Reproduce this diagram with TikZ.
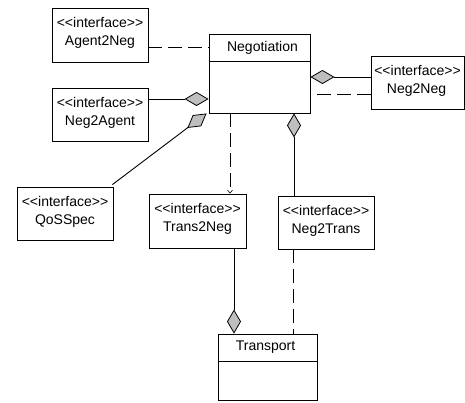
\documentclass[tikz,border=0pt]{standalone}
\usepackage{fontspec}
% plain family: no TeX ligatures, so << and >> stay as typed
\newfontfamily\umlfont{Liberation Sans}
\usetikzlibrary{arrows.meta}
\begin{document}
\begin{tikzpicture}[x=1pt,y=-1pt,
  line width=0.9pt,
  every node/.style={font=\umlfont\fontsize{14}{16}\selectfont, inner sep=0pt},
  classbox/.style={draw, fill=white, minimum width=#1},
  umldash/.style={dash pattern=on 14pt off 6pt},
  agg/.style={-{Diamond[length=24pt,width=14pt,fill=lightgray,line width=0.8pt]}},
  dep/.style={umldash, -{Straight Barb[length=3pt,width=5pt,line width=0.6pt]}}
]
\useasboundingbox (0,0) rectangle (465,403);

% interface boxes
\node[classbox=96, minimum height=54] (agent) at (100,35) {};
\node[classbox=96, minimum height=53] (negagent) at (100,114.5) {};
\node[classbox=93, minimum height=53] (negneg) at (417.5,82.5) {};
\node[classbox=96, minimum height=53] (qos) at (65,213.5) {};
\node[classbox=97, minimum height=54] (transneg) at (197.5,221) {};
\node[classbox=96, minimum height=53] (negtrans) at (326,222.5) {};

% class boxes with a compartment line
\node[classbox=101, minimum height=79] (nego) at (259.5,73.5) {};
\draw ([yshift=-28pt]nego.north west) -- ([yshift=-28pt]nego.north east);
\node[classbox=99, minimum height=66] (transport) at (267.5,367) {};
\draw ([yshift=-28pt]transport.north west) -- ([yshift=-28pt]transport.north east);

% texts
\node at ([yshift=-15pt]agent.north) {<<interface>>};
\node at ([yshift=-35pt]agent.north) {Agent2Neg};
\node at ([yshift=-15pt]negagent.north) {<<interface>>};
\node at ([yshift=-35pt]negagent.north) {Neg2Agent};
\node at ([yshift=-15pt]negneg.north) {<<interface>>};
\node at ([yshift=-35pt,xshift=-1pt]negneg.north) {Neg2Neg};
\node at ([yshift=-15pt]qos.north) {<<interface>>};
\node at ([yshift=-35pt]qos.north) {QoSSpec};
\node at ([yshift=-15pt]transneg.north) {<<interface>>};
\node at ([yshift=-35pt]transneg.north) {Trans2Neg};
\node at ([yshift=-15pt]negtrans.north) {<<interface>>};
\node at ([yshift=-35pt]negtrans.north) {Neg2Trans};
\node at ([yshift=-14pt,xshift=3pt]nego.north) {Negotiation};
\node at ([yshift=-14pt,xshift=-2pt]transport.north) {Transport};

% connectors
\draw[umldash] ([yshift=-12pt]agent.east) -- ([yshift=-12pt]agent.east -| nego.west);
\draw[agg] ([yshift=15.5pt]negagent.east) -- ([yshift=15.5pt]negagent.east -| nego.west);
\draw[agg] ([xshift=-1pt,yshift=2pt]qos.north east) -- ([xshift=-2pt]nego.south west);
\draw[agg] ([yshift=5.5pt]negneg.west) -- ([yshift=5.5pt]negneg.west -| nego.east);
\draw[umldash] ([yshift=-11.5pt]negneg.west) -- ([yshift=-11.5pt]negneg.west -| nego.east);
\draw[dep] ([xshift=-29.5pt]nego.south) -- ([xshift=32.5pt]transneg.north);
\draw[agg] ([xshift=-32pt]negtrans.north) -- ([xshift=34.5pt]nego.south);
\draw[agg] ([xshift=36.5pt]transneg.south) -- ([xshift=-33.5pt]transport.north);
\draw[umldash] ([xshift=-33pt]negtrans.south) -- ([xshift=25.5pt]transport.north);
\end{tikzpicture}
\end{document}
